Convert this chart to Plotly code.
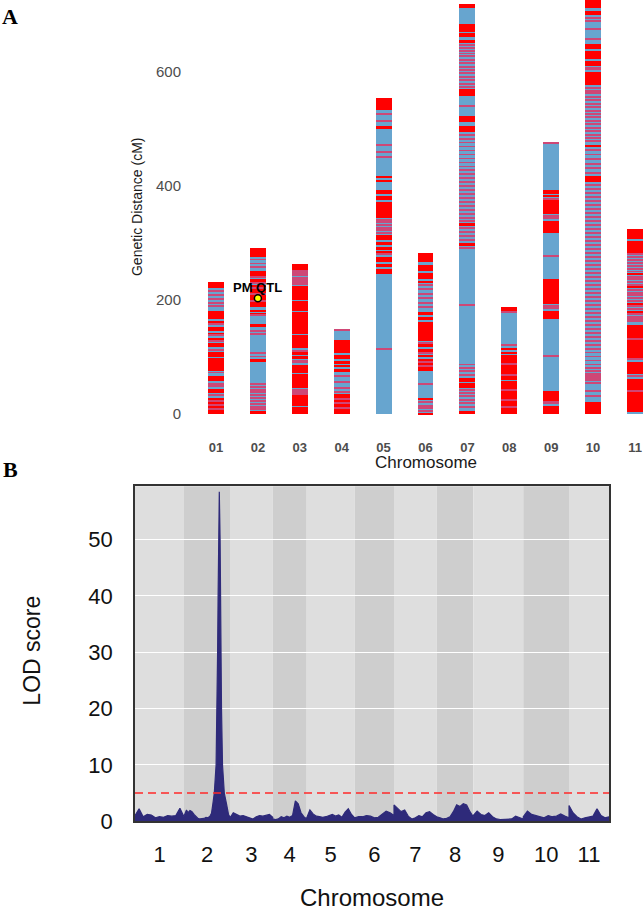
import plotly.graph_objects as go

# ---------------- Panel A data (genetic map, cM) ----------------
chrom_labels_A = ["01", "02", "03", "04", "05", "06", "07", "08", "09", "10", "11"]
chrom_len_cM = [231, 291, 263, 148, 553, 283, 718, 187, 475, 730, 324]

red_c01 = [[221, 231], [166, 181], [160, 162.5], [146, 153], [140, 142], [131, 134], [117, 124],
           [100, 108], [76, 99], [58, 67], [37, 44], [0, 29]]
red_c02 = [[276, 291], [242, 251], [232, 236], [187, 227], [180, 183], [175, 177], [153, 158],
           [91, 96], [0, 6]]
red_c03 = [[253, 263], [200, 224], [180, 198], [140, 179], [115, 138], [104, 113], [96, 101],
           [72, 86], [45, 70], [15, 33], [0, 13]]
red_c04 = [[107, 130], [96, 104], [88, 93], [82, 86], [73, 79], [29, 35], [20, 27], [11, 17], [0, 8]]
red_c05 = [[533, 553], [501, 504], [413, 418], [406, 410], [385, 392], [375, 383], [343, 372],
           [305, 314], [296, 302], [288, 293], [282, 285], [266, 275], [258, 263], [245, 255]]
red_c06 = [[266, 283], [250, 262], [236, 248], [230, 233], [173, 178], [165, 170], [128, 162],
           [118, 122], [108, 114], [100, 104], [75, 96], [25, 29], [0, 2]]
red_c07 = [[711, 718], [670, 683], [660, 667], [651, 656], [558, 569], [511, 523], [494, 504],
           [330, 334], [294, 300], [57, 63], [46, 54], [0, 5]]
red_c08 = [[180, 187], [112, 116], [105, 109], [88, 104], [70, 86], [60, 66], [42, 58], [0, 40]]
red_c09 = [[386, 392], [381, 384], [351, 378], [317, 339], [193, 236], [167, 180], [23, 41], [0, 15]]
red_c10 = [[712, 730], [700, 706], [640, 648], [622, 637], [610, 619], [576, 599], [468, 471],
           [407, 418], [0, 22]]
red_c11 = [[307, 324], [283, 303], [244, 247], [221, 224], [192, 195], [178, 181], [99, 156],
           [71, 91], [3, 62]]

thin_c01 = [214, 207, 200, 193, 188, 157, 137, 127, 112, 72, 52, 48, 33, 22, 15, 8]
thin_c02 = [270, 263, 257, 239, 229, 220, 210, 198, 172, 145, 140, 106, 100, 52, 47, 42, 37,
            32, 27, 22, 17, 12, 8]
thin_c03 = [250, 246, 242, 238, 234, 230, 227, 110, 93, 90, 41, 38, 35]
thin_c04 = [147, 66, 55, 45, 38, 25, 18, 9]
thin_c05 = [525, 513, 471, 458, 450, 340, 335, 330, 326, 321, 317, 280, 113.5]
thin_c06 = [225, 219, 210, 202, 193, 186, 124, 106, 90, 84, 51, 20, 14, 9, 5]
thin_c07 = [646, 641, 636, 631, 626, 620, 614, 608, 602, 596, 590, 584, 578, 573,
            539, 489, 482, 475, 468, 461, 454, 447, 440, 433, 426, 419, 412, 405, 398, 391,
            384, 377, 370, 363, 356, 349, 342, 337,
            326, 319, 312, 305, 290, 190, 86, 80, 74, 68,
            42, 36, 30, 24, 18, 12]
thin_c08 = [178, 121, 86.5, 67, 41, 24, 12]
thin_c09 = [474, 376, 347, 343, 276, 189, 185, 101, 20, 18]
thin_c10 = [694, 688, 674, 656, 606, 603,
            571, 566, 561, 555, 549, 543, 537, 531, 525, 519, 513, 507, 501, 495, 489, 483, 477,
            462, 454, 446, 438, 430, 422,
            401, 394, 387, 380, 373, 366, 359, 352, 345, 338, 331, 324, 317, 310, 303, 296, 289,
            282, 275, 268, 261, 254, 247, 240, 233, 226, 219, 212, 205, 198, 191, 184, 177, 170,
            163, 156, 149, 142, 135, 128, 121, 114, 107, 100, 93, 86, 80,
            74, 70, 66, 62, 58, 54, 40, 30]
thin_c11 = [279, 274, 269, 264, 259, 254, 249, 240, 235, 230, 226, 217, 212, 207, 202, 198, 188,
            184, 174, 170, 166, 162, 130, 95, 66, 40]

red_blocks = [red_c01, red_c02, red_c03, red_c04, red_c05, red_c06, red_c07, red_c08, red_c09,
              red_c10, red_c11]
thin_markers = [thin_c01, thin_c02, thin_c03, thin_c04, thin_c05, thin_c06, thin_c07, thin_c08,
                thin_c09, thin_c10, thin_c11]

qtl_chrom = 2
qtl_pos_cM = 203
qtl_label = "PM QTL"

# ---------------- Panel B data (LOD scan) ----------------
chrom_labels_B = ["1", "2", "3", "4", "5", "6", "7", "8", "9", "10", "11"]
chrom_len_Mb = [49, 46, 42.7, 34, 48, 39.3, 42.7, 36.6, 50, 45.7, 40]
lod_threshold = 5.0

lod_c1 = [1.0, 2.2, 0.8, 1.2, 1.1, 0.6, 0.8, 0.7, 1.0, 0.9, 1.0, 2.3, 0.8]
pos_c2 = [0.0, 2.5, 4.0, 6.0, 8.0, 10.0, 12.0, 14.0, 16.0, 18.0, 20.0, 22.0, 24.0, 26.0, 27.5,
          28.8, 30.3, 32.1, 33.1, 33.6, 34.1, 34.5, 35.3, 36.1, 36.5, 37.0, 37.5, 38.5, 40.3,
          42.6, 43.5, 44.5, 46.0]
lod_c2 = [0.9, 2.0, 1.5, 1.9, 1.7, 1.2, 0.8, 0.5, 0.4, 0.4, 0.5, 0.7, 0.6, 0.9, 1.4,
          3.0, 5.0, 10.0, 20.0, 30.0, 40.0, 50.0, 58.5, 50.0, 40.0, 30.0, 20.0, 10.0, 5.0,
          3.0, 2.0, 1.2, 0.7]
lod_c3 = [0.6, 1.5, 1.2, 0.9, 1.0, 0.8, 0.5, 0.4, 0.8, 1.0, 0.9, 1.0, 1.2, 0.7]
lod_c4 = [0.4, 0.3, 0.4, 0.8, 0.6, 0.9, 0.7, 1.0, 3.6, 3.1, 1.5, 0.8, 0.4]
lod_c5 = [0.6, 2.0, 1.3, 0.9, 0.8, 0.7, 0.8, 1.0, 1.2, 0.9, 1.1, 0.7, 1.6, 2.2, 1.2, 0.6]
lod_c6 = [0.6, 0.8, 0.8, 1.0, 0.9, 0.6, 0.7, 1.2, 1.8, 1.5, 1.0]
lod_c7 = [2.9, 2.3, 1.7, 2.0, 0.9, 0.4, 0.6, 1.0, 0.8, 1.5, 1.7, 1.2, 0.8]
lod_c8 = [0.8, 0.6, 0.4, 0.5, 0.8, 1.7, 2.9, 2.6, 3.1, 2.9, 1.7, 0.8]
lod_c9 = [1.0, 1.8, 1.2, 1.0, 1.5, 0.8, 0.4, 0.3, 0.3, 0.3, 0.4, 0.9, 0.6, 0.4]
lod_c10 = [0.8, 1.8, 1.2, 1.0, 0.8, 0.6, 1.0, 0.8, 0.9, 1.3, 0.9, 0.6]
lod_c11 = [2.8, 1.5, 0.8, 0.4, 0.6, 0.8, 0.9, 2.2, 1.0, 0.6, 0.8]

lod_values = [lod_c1, lod_c2, lod_c3, lod_c4, lod_c5, lod_c6, lod_c7, lod_c8, lod_c9, lod_c10, lod_c11]

# ---------------- styling ----------------
W, H = 644, 919
BLUE = "#67A5CF"
RED = "#FF0000"
THIN = "#CF4674"
NAVY = "#2E2A7A"
BAR_W = 0.38
THIN_H = 1.7


def px_x(p):
    return p / W


def px_y(p):
    return 1 - p / H


fig = go.Figure()

# --- Panel A ---
xs = list(range(1, len(chrom_labels_A) + 1))
fig.add_trace(go.Bar(x=xs, y=chrom_len_cM, base=0, width=BAR_W, marker=dict(color=BLUE, line=dict(width=0)),
                     xaxis="x", yaxis="y", showlegend=False, hoverinfo="skip"))

rx, rb, rh = [], [], []
for i, blocks in enumerate(red_blocks):
    for s, e in blocks:
        rx.append(i + 1)
        rb.append(s)
        rh.append(e - s)
fig.add_trace(go.Bar(x=rx, y=rh, base=rb, width=BAR_W, marker=dict(color=RED, line=dict(width=0)),
                     xaxis="x", yaxis="y", showlegend=False, hoverinfo="skip"))

tx, tb, th = [], [], []
for i, marks in enumerate(thin_markers):
    for m in marks:
        tx.append(i + 1)
        tb.append(m)
        th.append(THIN_H)
fig.add_trace(go.Bar(x=tx, y=th, base=tb, width=BAR_W,
                     marker=dict(color=THIN, opacity=0.99, line=dict(width=0)),
                     xaxis="x", yaxis="y", showlegend=False, hoverinfo="skip"))

fig.add_trace(go.Scatter(x=[qtl_chrom], y=[qtl_pos_cM], mode="markers",
                         marker=dict(color="#FFFF00", size=7, line=dict(color="black", width=1.5)),
                         xaxis="x", yaxis="y", showlegend=False, hoverinfo="skip"))

# --- Panel B ---
offsets = []
acc = 0.0
for L in chrom_len_Mb:
    offsets.append(acc)
    acc += L
total_len = acc

gx, gy = [], []
for i, vals in enumerate(lod_values):
    L = chrom_len_Mb[i]
    if i == 1:
        positions = pos_c2
    else:
        n = len(vals)
        positions = [L * j / (n - 1) for j in range(n)]
    for p, v in zip(positions, vals):
        gx.append(offsets[i] + p)
        gy.append(v)

fig.add_trace(go.Scatter(x=gx, y=gy, mode="lines", fill="tozeroy", fillcolor=NAVY,
                         line=dict(color=NAVY, width=1.2), xaxis="x2", yaxis="y2",
                         showlegend=False, hoverinfo="skip"))

shapes = []
for i, L in enumerate(chrom_len_Mb):
    shapes.append(dict(type="rect", xref="x2", yref="y2 domain", x0=offsets[i], x1=offsets[i] + L,
                       y0=0, y1=1, fillcolor="#DEDEDE" if i % 2 == 0 else "#CECECE",
                       line=dict(width=0), layer="below"))
shapes.append(dict(type="line", xref="x2", yref="y2", x0=0, x1=total_len, y0=lod_threshold,
                   y1=lod_threshold, line=dict(color="#FF2A2A", width=1.5, dash="8px,5px"),
                   layer="above"))

centers_B = [offsets[i] + L / 2 for i, L in enumerate(chrom_len_Mb)]

# y scale of panel A: 0 cM at 420 px, 600 cM at 72.7 px
a_top_px, a_bot_px = 0, 440
cm_per_px = 600 / (420 - 72.7)
yA_range = [-(a_bot_px - 420) * cm_per_px, (420 - a_top_px) * cm_per_px]

# x scale of panel A: chromosome centres 216 px + 41.9 px step
a_left_px = 186
step_px = 41.9
xA_range = [1 - (216 - a_left_px) / step_px, 1 + (W - 216) / step_px]

# Panel B frame
b_left, b_right, b_top, b_bot = 135, 609, 493.3, 833
lod_per_px = 50 / (833 - 547.3)
yB_range = [0, (b_bot - b_top) * lod_per_px]


def ann(text, x, y, size, color="#1A1A1A", family=None, angle=0, xref="paper", yref="paper"):
    f = dict(size=size, color=color)
    if family:
        f["family"] = family
    return dict(text=text, x=x, y=y, xref=xref, yref=yref, showarrow=False, textangle=angle,
                xanchor="center", yanchor="middle", font=f)


SERIF = "Liberation Serif, Times New Roman, serif"

fig.update_layout(
    width=W, height=H,
    margin=dict(l=0, r=0, t=0, b=0),
    paper_bgcolor="white", plot_bgcolor="white",
    barmode="overlay", bargap=0,
    font=dict(family="Liberation Sans, Arial, sans-serif"),
    xaxis=dict(domain=[px_x(a_left_px), 1], range=xA_range, tickvals=xs, ticktext=chrom_labels_A,
               showgrid=False, zeroline=False, showline=False, ticks="",
               tickfont=dict(size=13, color="#4D4D4D", weight="bold"), ticklabelstandoff=4,
               fixedrange=True),
    yaxis=dict(domain=[px_y(a_bot_px), px_y(a_top_px)], range=yA_range, tickvals=[0, 200, 400, 600],
               showgrid=False, zeroline=False, showline=False, ticks="",
               tickfont=dict(size=15, color="#4D4D4D"), ticklabelstandoff=4),
    xaxis2=dict(domain=[px_x(b_left), px_x(b_right)], range=[0, total_len], tickvals=centers_B,
                ticktext=chrom_labels_B, showgrid=False, zeroline=False, showline=True, mirror=True,
                linecolor="#333333", linewidth=1.5, ticks="", anchor="y2",
                tickfont=dict(size=22, color="#111111"), ticklabelstandoff=13),
    yaxis2=dict(domain=[px_y(b_bot), px_y(b_top)], range=yB_range, tickvals=[0, 10, 20, 30, 40, 50],
                showgrid=True, gridcolor="white", gridwidth=1.3, zeroline=False, showline=True,
                mirror=True, linecolor="#333333", linewidth=1.5, ticks="", anchor="x2",
                tickfont=dict(size=22, color="#111111"), ticklabelstandoff=16),
    shapes=shapes,
    annotations=[
        ann("<b>A</b>", px_x(10), px_y(17), 22, "black", SERIF),
        ann("<b>B</b>", px_x(10), px_y(476), 22, "black", SERIF),
        ann("Genetic Distance (cM)", px_x(137), px_y(210), 14, angle=-90),
        ann("Chromosome", px_x(426), px_y(469), 17),
        ann("<b>" + qtl_label + "</b>", qtl_chrom, qtl_pos_cM + 19, 13, "black", xref="x", yref="y"),
        ann("LOD score", px_x(32), px_y(660), 23, "#111111", angle=-90),
        ann("Chromosome", px_x(372), px_y(910), 24, "#111111"),
    ],
)

fig.write_html("out.html")
